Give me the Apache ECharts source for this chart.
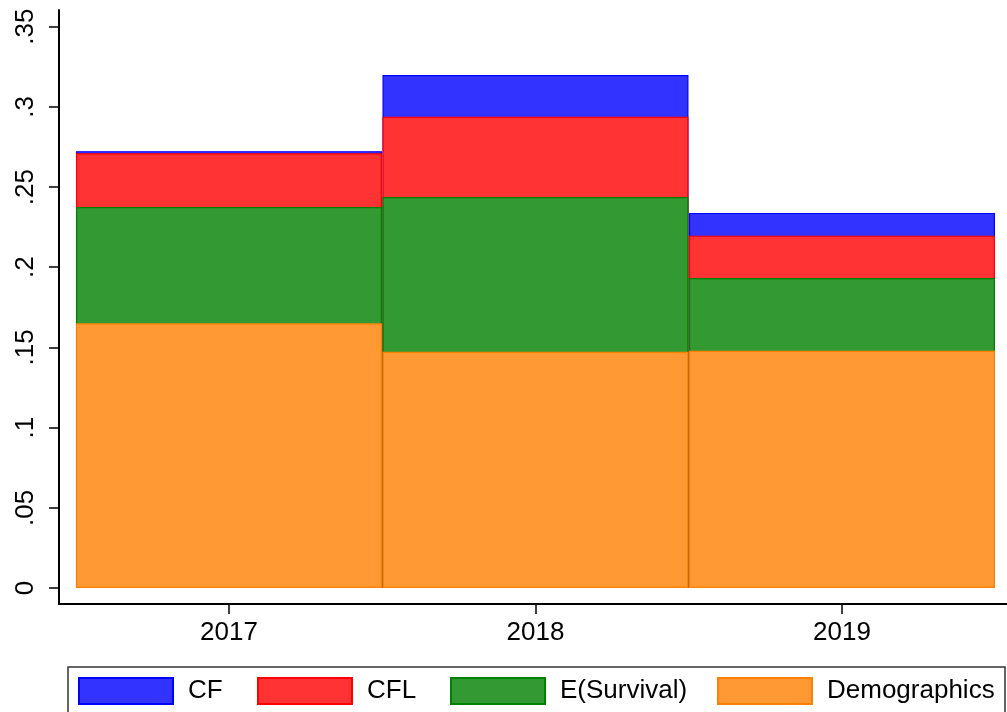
<!DOCTYPE html>
<html>
<head>
<meta charset="utf-8">
<script src="https://cdn.jsdelivr.net/npm/echarts@6/dist/echarts.min.js"></script>
<style>
  html, body { margin: 0; padding: 0; background: #fff; }
  #main { width: 1007px; height: 712px; }
</style>
</head>
<body>
<div id="main"></div>
<script>
// years on the x axis
var years = [2017, 2018, 2019];
// cumulative heights of each layer
var cfTop = [0.2724, 0.3199, 0.2339];
var cflTop = [0.2711, 0.2938, 0.2197];
var survTop = [0.2375, 0.2438, 0.1933];
var demoTop = [0.1650, 0.1473, 0.1479];
var yTicks = [0, 0.05, 0.1, 0.15, 0.2, 0.25, 0.3, 0.35];
var names = ['CF', 'CFL', 'E(Survival)', 'Demographics'];

var myChart = echarts.init(document.getElementById('main'));
var font = 'Liberation Sans';

function pairs(vals) {
    var out = [];
    for (var i = 0; i < years.length; i++) {
        out.push([years[i], vals[i]]);
    }
    return out;
}

function barSeries(name, vals, fill, border) {
    return {
        name: name,
        type: 'bar',
        barWidth: 306,
        barGap: '-100%',
        data: pairs(vals),
        itemStyle: { color: fill, borderColor: border, borderWidth: 1.2 },
        emphasis: { disabled: true },
        animation: false
    };
}

// one legend per item so they line up like the original key
var legendLefts = [78, 257, 450, 717];
var legends = [];
for (var k = 0; k < names.length; k++) {
    legends.push({
        data: [names[k]],
        left: legendLefts[k],
        top: 677,
        padding: 0,
        itemWidth: 94,
        itemHeight: 26,
        icon: 'rect',
        selectedMode: false,
        textStyle: { fontFamily: font, fontSize: 26, color: '#000', padding: [0, 0, 0, 10], lineHeight: 26 }
    });
}

myChart.setOption({
    backgroundColor: '#fff',
    animation: false,
    grid: { left: 59, right: 0, top: 10, bottom: 108 },
    legend: legends,
    xAxis: {
        type: 'value',
        min: 2016.4454,
        max: 2019.5384,
        axisLine: { show: true, onZero: false, lineStyle: { color: '#000', width: 2 } },
        axisTick: { show: true, customValues: years, length: 10, lineStyle: { color: '#000', width: 1.5 } },
        axisLabel: {
            customValues: years,
            fontFamily: font, fontSize: 26, color: '#000', margin: 16,
            formatter: function (v) { return String(v); }
        },
        splitLine: { show: false }
    },
    yAxis: {
        type: 'value',
        min: -0.00998,
        max: 0.3604,
        axisLine: { show: true, onZero: false, lineStyle: { color: '#000', width: 2 } },
        axisTick: { show: true, customValues: yTicks, length: 10, lineStyle: { color: '#000', width: 1.5 } },
        axisLabel: {
            customValues: yTicks,
            rotate: 90,
            fontFamily: font, fontSize: 26, color: '#000', margin: 20,
            formatter: function (v) {
                var s = String(Math.round(v * 100) / 100);
                return s.replace(/^0\./, '.');
            }
        },
        splitLine: { show: false }
    },
    graphic: [{
        type: 'rect',
        shape: { x: 68, y: 667, width: 937, height: 60 },
        style: { fill: 'none', stroke: '#333', lineWidth: 1.5 },
        silent: true
    }],
    series: [
        barSeries(names[0], cfTop, '#3333ff', '#0000ff'),
        barSeries(names[1], cflTop, '#ff3333', '#ff0000'),
        barSeries(names[2], survTop, '#339933', '#008000'),
        barSeries(names[3], demoTop, '#ff9933', '#ff8000')
    ]
});
</script>
</body>
</html>
